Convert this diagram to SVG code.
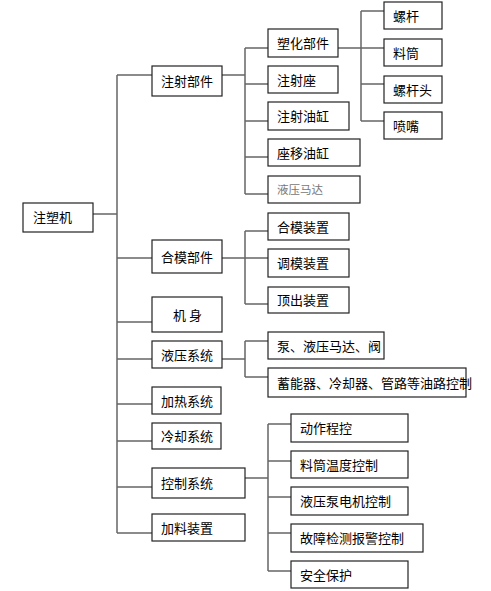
<svg xmlns="http://www.w3.org/2000/svg" width="491" height="591" viewBox="0 0 491 591">
<style>
rect{fill:#fff;stroke:#222;stroke-width:1.2}
text{font-family:"Noto Sans CJK SC","Noto Sans",sans-serif;font-size:13px;fill:#000}
.g{fill:#777;font-size:11.5px}
.c path{fill:none;stroke:#666;stroke-width:1.5}
</style>
<rect x="0" y="0" width="491" height="591" style="fill:#fff;stroke:none"/>
<g class="c" id="connectors">
<path d="M93 214H117M117 75V533M117 75H152M117 258H152M117 322H152M117 359H152M117 404H152M117 441H152M117 487H152M117 533H152"/>
<path d="M222 75H245M245 48V194M245 48H268M245 84H268M245 121H268M245 157H268M245 194H268"/>
<path d="M338 48H384M361 11V121M361 11H384M361 84H384M361 121H384"/>
<path d="M222 258H245M245 231V304M245 231H268M245 258H268M245 304H268"/>
<path d="M222 359H245M245 341V377M245 341H268M245 377H268"/>
<path d="M245 478H268M268 424V571M268 424H291M268 461H291M268 497H291M268 533H291M268 571H291"/>
</g>
<g id="n-root"><rect x="23" y="203" width="70" height="29"/><text x="33" y="222">注塑机</text></g>
<g id="n-zhushe"><rect x="152" y="66" width="70" height="30"/><text x="161" y="86">注射部件</text></g>
<g id="n-suhua"><rect x="268" y="29" width="70" height="28"/><text x="277" y="48">塑化部件</text></g>
<g id="n-zhushezuo"><rect x="268" y="66" width="70" height="27"/><text x="277" y="85">注射座</text></g>
<g id="n-zhusheyougang"><rect x="268" y="102" width="81" height="28"/><text x="277" y="121">注射油缸</text></g>
<g id="n-zuoyi"><rect x="268" y="139" width="92" height="27"/><text x="277" y="158">座移油缸</text></g>
<g id="n-yeyamada"><rect x="268" y="176" width="92" height="27"/><text class="g" x="277" y="194">液压马达</text></g>
<g id="n-luogan"><rect x="384" y="2" width="58" height="27"/><text x="393" y="21">螺杆</text></g>
<g id="n-liaotong"><rect x="384" y="39" width="58" height="27"/><text x="393" y="58">料筒</text></g>
<g id="n-luogantou"><rect x="384" y="76" width="58" height="27"/><text x="393" y="95">螺杆头</text></g>
<g id="n-penzui"><rect x="384" y="112" width="58" height="27"/><text x="393" y="131">喷嘴</text></g>
<g id="n-hemo"><rect x="152" y="240" width="70" height="33"/><text x="161" y="262">合模部件</text></g>
<g id="n-hemozz"><rect x="268" y="213" width="81" height="27"/><text x="277" y="232">合模装置</text></g>
<g id="n-tiaomo"><rect x="268" y="249" width="81" height="28"/><text x="277" y="268">调模装置</text></g>
<g id="n-dingchu"><rect x="268" y="287" width="81" height="26"/><text x="277" y="305">顶出装置</text></g>
<g id="n-jishen"><rect x="152" y="297" width="70" height="35"/><text x="173" y="320">机  身</text></g>
<g id="n-yeya"><rect x="152" y="341" width="70" height="27"/><text x="161" y="360">液压系统</text></g>
<g id="n-beng"><rect x="268" y="332" width="116" height="27"/><text x="277" y="351">泵、液压马达、阀</text></g>
<g id="n-xuneng"><rect x="268" y="368" width="198" height="29"/><text x="277" y="388">蓄能器、冷却器、管路等油路控制</text></g>
<g id="n-jiare"><rect x="152" y="387" width="69" height="27"/><text x="161" y="406">加热系统</text></g>
<g id="n-lengque"><rect x="152" y="423" width="69" height="26"/><text x="161" y="441">冷却系统</text></g>
<g id="n-kongzhi"><rect x="152" y="468" width="93" height="30"/><text x="161" y="488">控制系统</text></g>
<g id="n-jialiao"><rect x="152" y="514" width="93" height="27"/><text x="161" y="533">加料装置</text></g>
<g id="n-dongzuo"><rect x="291" y="414" width="117" height="28"/><text x="300" y="433">动作程控</text></g>
<g id="n-wendu"><rect x="291" y="451" width="117" height="27"/><text x="300" y="470">料筒温度控制</text></g>
<g id="n-dianji"><rect x="291" y="487" width="117" height="28"/><text x="300" y="506">液压泵电机控制</text></g>
<g id="n-guzhang"><rect x="291" y="524" width="132" height="28"/><text x="300" y="543">故障检测报警控制</text></g>
<g id="n-anquan"><rect x="291" y="561" width="117" height="27"/><text x="300" y="580">安全保护</text></g>
</svg>
